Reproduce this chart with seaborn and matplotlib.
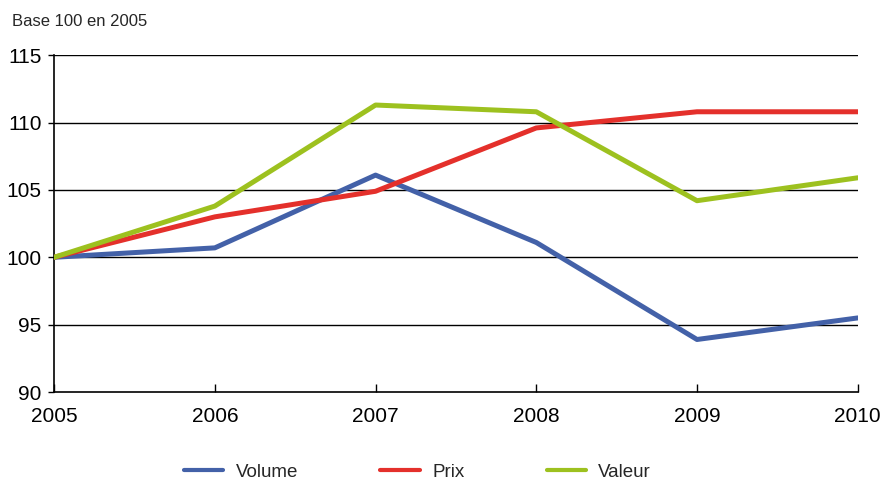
import numpy as np
import pandas as pd
import matplotlib
matplotlib.use("Agg")
import matplotlib.pyplot as plt
import seaborn as sns

# valeurs (base 100 en 2005)
annees = [2005, 2006, 2007, 2008, 2009, 2010]
volume = [100.0, 100.7, 106.1, 101.1, 93.9, 95.5]
prix = [100.0, 103.0, 104.9, 109.6, 110.8, 110.8]
valeur = [100.0, 103.8, 111.3, 110.8, 104.2, 105.9]
series = ["Volume", "Prix", "Valeur"]
couleurs = ["#4361a8", "#e4302b", "#9dc11f"]

df = pd.DataFrame({"annee": annees, "Volume": volume, "Prix": prix, "Valeur": valeur})
df = df.melt(id_vars="annee", var_name="serie", value_name="indice")

sns.set_style("white")
plt.rcParams['font.family'] = ['Liberation Sans', 'DejaVu Sans']

fig = plt.figure(figsize=(8.87, 4.84), dpi=100)
ax = fig.add_axes([0.061, 0.19, 0.906, 0.696])

for y in [95, 100, 105, 110, 115]:
    ax.axhline(y, color="black", lw=1.0, zorder=1)

sns.lineplot(data=df, x="annee", y="indice", hue="serie", hue_order=series,
             palette=couleurs, lw=3.6, ax=ax, zorder=3)

ax.set_xlim(2005, 2010)
ax.set_ylim(90, 115)
ax.set_yticks([90, 95, 100, 105, 110, 115])
ax.set_xticks(annees)
ax.set_xticklabels([str(a) for a in annees])
ax.set_xlabel("")
ax.set_ylabel("")
for s in ["top", "right"]:
    ax.spines[s].set_visible(False)
for s in ["left", "bottom"]:
    ax.spines[s].set_color("black")
    ax.spines[s].set_linewidth(1.2)
ax.tick_params(axis="y", direction="out", length=4, width=1, colors="black",
               labelsize=15, pad=5)
ax.tick_params(axis="x", direction="in", length=6, width=1, colors="black",
               labelsize=15, pad=11)
ax.tick_params(left=True, bottom=True)

fig.text(0.014, 0.955, "Base 100 en 2005", fontsize=12, va="center")

handles, labels = ax.get_legend_handles_labels()
for h in handles:
    h.set_linewidth(3.0)
fig.legend(handles, labels, loc="center left", bbox_to_anchor=(184 / 887, 1 - 472 / 484),
           ncol=3, frameon=False, fontsize=13.5, handlelength=2.1,
           columnspacing=4.4, handletextpad=0.65, borderpad=0, borderaxespad=0)
ax.get_legend().remove()

fig.savefig("out.png", dpi=100)
